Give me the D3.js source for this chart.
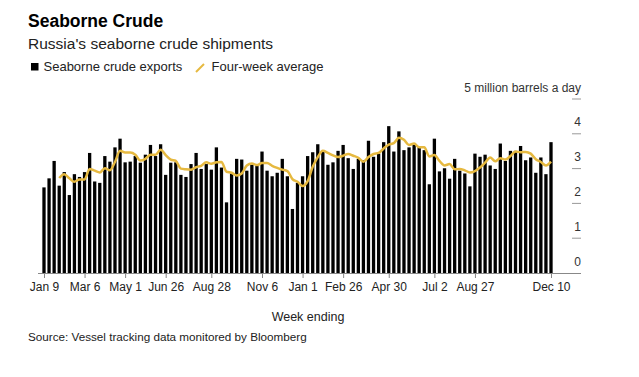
<!DOCTYPE html>
<html>
<head>
<meta charset="utf-8">
<script src="https://cdn.jsdelivr.net/npm/d3@7"></script>
<style>
    body { margin: 0; background: #fff; }
    text { font-family: "Liberation Sans", Arial, sans-serif; }
</style>
</head>
<body>
<div id="chart"></div>
<script>
// Weekly data, week ending Jan 9 2022 ... Dec 10 2023
const firstWeek = new Date(2022, 0, 9);

// million barrels a day
const exports = [
    2.46, 2.72, 3.22, 2.51, 2.90, 2.24, 2.84, 2.76, 2.90, 3.45,
    2.63, 2.59, 3.36, 3.20, 3.61, 3.86, 3.18, 3.20, 3.36, 3.17,
    3.40, 3.68, 3.36, 3.70, 2.82, 3.17, 3.18, 2.82, 2.76, 3.13,
    3.45, 2.99, 3.13, 2.97, 3.61, 3.03, 2.03, 2.86, 3.28, 3.26,
    2.94, 3.11, 3.09, 3.49, 2.94, 2.78, 2.88, 3.28, 2.78, 1.84,
    2.59, 2.78, 3.36, 3.47, 3.70, 3.51, 3.11, 3.18, 3.51, 3.68,
    3.30, 2.99, 3.28, 3.24, 3.80, 3.34, 3.43, 3.76, 4.22, 3.49,
    4.07, 3.53, 3.61, 3.68, 3.63, 3.53, 2.55, 3.86, 2.92, 3.01,
    2.71, 3.28, 2.94, 2.86, 2.49, 3.43, 3.34, 3.40, 3.09, 2.99,
    3.72, 3.22, 3.51, 3.51, 3.65, 3.24, 3.32, 2.88, 3.32, 2.84,
    3.76
];

// four-week average line (starts at the 4th week)
const fourWeekAvg = [
    null, null, null, 2.73, 2.84, 2.72, 2.62, 2.69, 2.69, 2.99,
    2.94, 2.89, 3.01, 2.95, 3.19, 3.51, 3.46, 3.46, 3.40, 3.23,
    3.28, 3.40, 3.40, 3.54, 3.39, 3.26, 3.22, 3.00, 2.98, 2.97,
    3.04, 3.08, 3.18, 3.14, 3.18, 3.19, 2.91, 2.88, 2.80, 2.86,
    3.09, 3.15, 3.10, 3.16, 3.16, 3.08, 3.02, 2.97, 2.93, 2.70,
    2.62, 2.50, 2.64, 3.05, 3.33, 3.51, 3.45, 3.38, 3.33, 3.37,
    3.42, 3.37, 3.31, 3.20, 3.33, 3.42, 3.45, 3.58, 3.69, 3.73,
    3.89, 3.83, 3.68, 3.72, 3.61, 3.61, 3.35, 3.39, 3.22, 3.09,
    3.13, 2.98, 2.99, 2.95, 2.89, 2.93, 3.03, 3.17, 3.32, 3.21,
    3.30, 3.26, 3.36, 3.49, 3.47, 3.48, 3.43, 3.27, 3.19, 3.09,
    3.20
];

const xTickDates = [
    "2022-01-09", "2022-03-06", "2022-05-01", "2022-06-26", "2022-08-28",
    "2022-11-06", "2023-01-01", "2023-02-26", "2023-04-30", "2023-07-02",
    "2023-08-27", "2023-12-10"
];
const yTicks = [0, 1, 2, 3, 4, 5];

const weekAccessor = (d, i) => d3.timeWeek.offset(firstWeek, i);

// Set up dimensions
let dimensions = {
    width: 639,
    height: 377,
    plot: {left: 44, right: 551, top: 99, bottom: 273},
}

// Set up scales
const xScale = d3.scaleTime()
    .domain([firstWeek, weekAccessor(null, exports.length - 1)])
    .range([dimensions.plot.left, dimensions.plot.right]);

const yScale = d3.scaleLinear()
    .domain([0, 5])
    .range([dimensions.plot.bottom, dimensions.plot.top]);

const gold = "#e6b940";

function drawChart() {

    const svg = d3.select("#chart")
        .append("svg")
            .attr("width", dimensions.width)
            .attr("height", dimensions.height)

    // Headline
    svg.append("text")
        .attr("x", 28)
        .attr("y", 27)
        .attr("font-size", "17.5px")
        .attr("font-weight", 700)
        .attr("fill", "#000")
        .text("Seaborne Crude");

    svg.append("text")
        .attr("x", 28)
        .attr("y", 48.5)
        .attr("font-size", "15.5px")
        .attr("fill", "#222")
        .text("Russia's seaborne crude shipments");

    // Legend
    const legend = svg.append("g")
        .attr("font-size", "13px")
        .attr("fill", "#222");

    legend.append("rect")
        .attr("x", 31)
        .attr("y", 63)
        .attr("width", 7.5)
        .attr("height", 7.5)
        .attr("fill", "#000");

    legend.append("text")
        .attr("x", 43.5)
        .attr("y", 70.5)
        .text("Seaborne crude exports");

    legend.append("line")
        .attr("x1", 196)
        .attr("y1", 72)
        .attr("x2", 204)
        .attr("y2", 64)
        .attr("stroke", gold)
        .attr("stroke-width", 2);

    legend.append("text")
        .attr("x", 211.5)
        .attr("y", 70.5)
        .text("Four-week average");

    // Y axis: short dashes at the right with labels above
    const yAxis = svg.append("g");

    yAxis.selectAll("line")
        .data(yTicks.filter(d => d > 0))
        .join("line")
            .attr("x1", 572)
            .attr("x2", 581)
            .attr("y1", d => yScale(d))
            .attr("y2", d => yScale(d))
            .attr("stroke", "#999")
            .attr("stroke-width", 1);

    yAxis.selectAll("text")
        .data(yTicks)
        .join("text")
            .attr("x", 581)
            .attr("y", d => yScale(d) - 7.5)
            .attr("text-anchor", "end")
            .attr("font-size", "12px")
            .attr("fill", "#333")
            .text(d => d === 5 ? "5 million barrels a day" : d);

    // Bars
    const barWidth = 3.3;
    svg.append("g")
        .selectAll("rect")
        .data(exports)
        .join("rect")
            .attr("x", (d, i) => xScale(weekAccessor(d, i)) - barWidth / 2)
            .attr("y", d => yScale(d))
            .attr("width", barWidth)
            .attr("height", d => yScale(0) - yScale(d))
            .attr("fill", "#000");

    // Four-week average
    const line = d3.line()
        .defined(d => d !== null)
        .x((d, i) => xScale(weekAccessor(d, i)))
        .y(d => yScale(d))
        .curve(d3.curveMonotoneX);

    svg.append("path")
        .datum(fourWeekAvg)
        .attr("d", line)
        .attr("fill", "none")
        .attr("stroke", gold)
        .attr("stroke-width", 2.5)
        .attr("stroke-linejoin", "round");

    // X axis
    const xAxis = svg.append("g")
        .attr("transform", `translate(0, ${dimensions.plot.bottom})`)
        .call(d3.axisBottom(xScale)
            .tickValues(xTickDates.map(d => d3.timeParse("%Y-%m-%d")(d)))
            .tickFormat(d3.timeFormat("%b %-d"))
            .tickSize(5)
            .tickSizeOuter(0))
        .call(g => g.select(".domain")
            .attr("d", "M38,0.5H581")
            .attr("stroke", "#888"))
        .call(g => g.selectAll(".tick line").attr("stroke", "#888"))
        .call(g => g.selectAll(".tick text")
            .attr("y", 9)
            .attr("font-size", "12px")
            .attr("font-family", "Liberation Sans, Arial, sans-serif")
            .attr("fill", "#222"));

    svg.append("text")
        .attr("x", 308)
        .attr("y", 321)
        .attr("text-anchor", "middle")
        .attr("font-size", "12.5px")
        .attr("fill", "#222")
        .text("Week ending");

    svg.append("text")
        .attr("x", 28)
        .attr("y", 341)
        .attr("font-size", "11.7px")
        .attr("fill", "#222")
        .text("Source: Vessel tracking data monitored by Bloomberg");
}

drawChart();
</script>
</body>
</html>
